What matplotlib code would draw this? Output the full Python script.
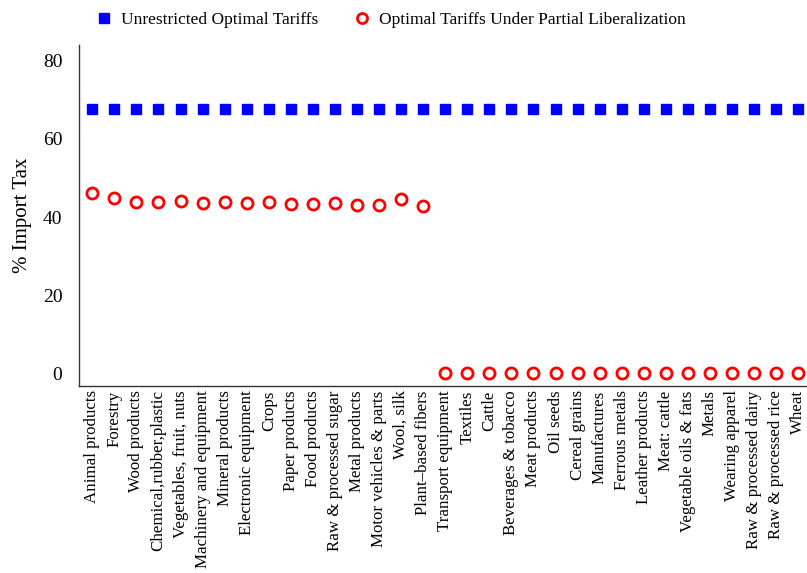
import numpy as np
import matplotlib.pyplot as plt

plt.rcParams["font.family"] = ["Liberation Serif", "DejaVu Serif"]

sectors = [
    "Animal products", "Forestry", "Wood products", "Chemical,rubber,plastic",
    "Vegetables, fruit, nuts", "Machinery and equipment", "Mineral products",
    "Electronic equipment", "Crops", "Paper products", "Food products",
    "Raw & processed sugar", "Metal products", "Motor vehicles & parts",
    "Wool, silk", "Plant\u2013based fibers", "Transport equipment", "Textiles",
    "Cattle", "Beverages & tobacco", "Meat products", "Oil seeds",
    "Cereal grains", "Manufactures", "Ferrous metals", "Leather products",
    "Meat: cattle", "Vegetable oils & fats", "Metals", "Wearing apparel",
    "Raw & processed dairy", "Raw & processed rice", "Wheat",
]

unrestricted = [67.8] * 33

partial = [
    46.1, 44.8, 43.9, 43.8, 44.1, 43.6, 43.9, 43.7, 43.9, 43.4, 43.4,
    43.5, 43.2, 43.2, 44.6, 42.9,
    0.2, 0.2, 0.2, 0.2, 0.2, 0.2, 0.2, 0.2, 0.2, 0.2, 0.2, 0.2, 0.2,
    0.2, 0.2, 0.2, 0.2,
]

x = np.arange(len(sectors))

fig = plt.figure(figsize=(8.07, 5.73), dpi=100)
ax = fig.add_axes([0.098, 0.326, 0.902, 0.595])

ax.plot(x, unrestricted, linestyle="none", marker="s", markersize=7.5,
        color="#0000ff", label="Unrestricted Optimal Tariffs")
ax.plot(x, partial, linestyle="none", marker="o", markersize=8,
        markerfacecolor="none", markeredgecolor="#ff0000", markeredgewidth=2,
        label="Optimal Tariffs Under Partial Liberalization")

ax.set_xlim(-0.6, 32.4)
ax.set_ylim(-3.3, 84)
ax.set_yticks([0, 20, 40, 60, 80])
ax.set_xticks(x)
ax.set_xticklabels(sectors, rotation=90, fontsize=12.2)
ax.tick_params(axis="y", labelsize=14, length=0, pad=12)
ax.tick_params(axis="x", length=0, pad=3)
ax.set_ylabel("% Import Tax", fontsize=15, labelpad=8)

for side in ["top", "right"]:
    ax.spines[side].set_visible(False)
for side in ["left", "bottom"]:
    ax.spines[side].set_color("#333333")
    ax.spines[side].set_linewidth(1.0)

fig.legend(loc="center", bbox_to_anchor=(0.484, 0.965), ncol=2, frameon=False,
           fontsize=12.5, handlelength=1.0, handletextpad=0.5,
           columnspacing=2.0, markerscale=0.9)

fig.savefig("out.png", dpi=100)
